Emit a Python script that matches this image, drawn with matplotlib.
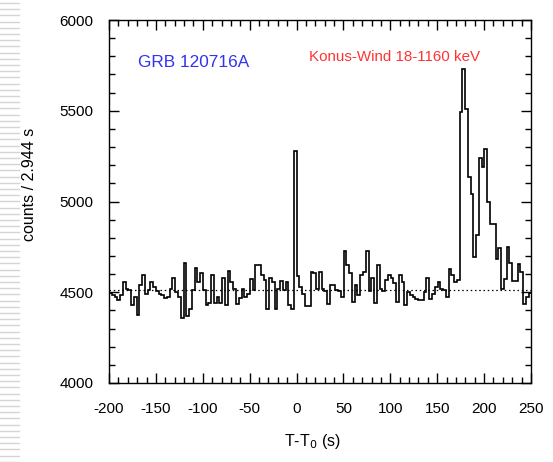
import numpy as np
import matplotlib
matplotlib.use("Agg")
import matplotlib.pyplot as plt
from matplotlib.lines import Line2D
from matplotlib.ticker import MultipleLocator

plt.rcParams['axes.unicode_minus'] = False

# ---- data ----
bin_width = 2.944
t_start = -200.0
counts = [
    4497, 4486, 4473, 4455, 4483, 4556, 4516, 4510, 4431, 4473,
    4376, 4541, 4596, 4492, 4510, 4556, 4528, 4505, 4492, 4483,
    4468, 4473, 4519, 4578, 4501, 4473, 4358, 4663, 4369, 4409,
    4510, 4633, 4556, 4607, 4510, 4431, 4442, 4593, 4442, 4473,
    4442, 4578, 4431, 4615, 4556, 4516, 4437, 4468, 4516, 4473,
    4492, 4574, 4510, 4652, 4652, 4593, 4565, 4405, 4578, 4556,
    4405, 4519, 4560, 4510, 4556, 4431, 4409, 5280, 4589, 4528,
    4492, 4424, 4424, 4611, 4607, 4516, 4611, 4516, 4505, 4437,
    4541, 4541, 4510, 4505, 4473, 4725, 4652, 4607, 4449, 4541,
    4483, 4593, 4611, 4725, 4505, 4578, 4442, 4648, 4519, 4505,
    4565, 4593, 4578, 4552, 4449, 4593, 4556, 4431, 4501, 4486,
    4473, 4464, 4460, 4455, 4501, 4578, 4464, 4492, 4528, 4556,
    4516, 4510, 4473, 4629, 4596, 4558, 4568, 5493, 5728, 5507,
    5135, 5043, 4694, 4813, 5241, 5190, 5291, 4997, 4877, 4877,
    4685, 4743, 4519, 4574, 4752, 4663, 4560, 4560, 4653, 4611,
    4437, 4473, 4497,
]
background = 4512

x_ticks = [-200, -150, -100, -50, 0, 50, 100, 150, 200, 250]
y_ticks = [4000, 4500, 5000, 5500, 6000]

title_left = "GRB 120716A"
title_right = "Konus-Wind 18-1160 keV"
xlabel = "T-T$_0$ (s)"
ylabel = "counts / 2.944 s"

# ---- figure ----
W, H = 553, 462
fig = plt.figure(figsize=(W / 100, H / 100), dpi=100)
ax = fig.add_axes([109 / W, 1 - 383 / H, (531 - 109) / W, (383 - 20) / H])

narrow = ['Liberation Sans Narrow', 'Liberation Sans', 'DejaVu Sans']

# decorative strip at left edge
for yy in np.arange(3, H, 6.2):
    fig.add_artist(Line2D([0, 19 / W], [1 - yy / H, 1 - yy / H], color='#d4d4d4',
                          lw=1.0, transform=fig.transFigure))

edges = t_start + bin_width * np.arange(len(counts) + 1)
ax.stairs(counts, edges, color='black', lw=1.2, baseline=None)
ax.axhline(background, color='black', lw=0.9, ls=(0, (1.2, 2.2)))

ax.set_xlim(-200, 250)
ax.set_ylim(4000, 6000)
ax.set_xticks(x_ticks)
ax.set_yticks(y_ticks)
ax.xaxis.set_minor_locator(MultipleLocator(10))
ax.yaxis.set_minor_locator(MultipleLocator(100))
ax.tick_params(which='both', direction='in', top=True, right=True, width=1.0)
ax.tick_params(which='major', length=7)
ax.tick_params(which='minor', length=4)
ax.tick_params(axis='x', which='major', pad=14)
ax.tick_params(axis='y', which='major', pad=11)
for lab in ax.get_xticklabels() + ax.get_yticklabels():
    lab.set_family(narrow)
    lab.set_fontsize(11)
for s in ax.spines.values():
    s.set_linewidth(1.0)

ax.set_xlabel(xlabel, family=narrow, fontsize=11.5)
ax.set_ylabel(ylabel, family=narrow, fontsize=11.5)
ax.xaxis.set_label_coords(0.481, -0.160)
ax.yaxis.set_label_coords(-0.188, 0.548)
ax.xaxis.label.set_va('center')
ax.yaxis.label.set_va('center')

ax.text(0.068, 0.883, title_left, transform=ax.transAxes, color='#3333ee',
        fontsize=12.4, family=['Liberation Sans', 'DejaVu Sans'], va='center', ha='left')
ax.text(0.475, 0.897, title_right, transform=ax.transAxes, color='#ff3333',
        fontsize=10.9, family=narrow, va='center', ha='left')

fig.savefig('out.png', dpi=100)
